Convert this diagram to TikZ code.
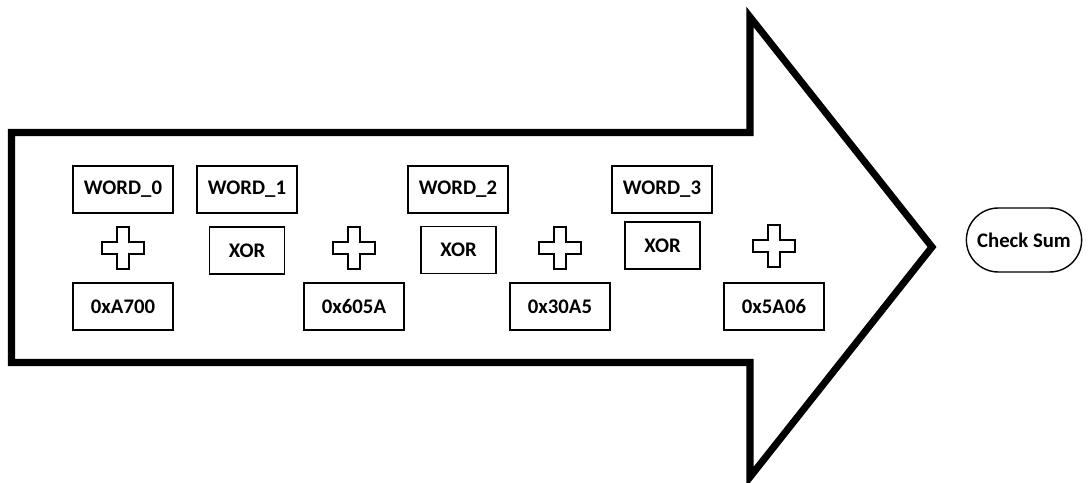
\documentclass[tikz,border=0pt]{standalone}
\usepackage{fontspec}
\setmainfont{Carlito}
\usepackage{tikz}
\usetikzlibrary{shapes.misc}

\begin{document}
\begin{tikzpicture}[
  x=0.02cm, y=-0.02cm,
  box/.style={draw, line width=0.8pt, minimum width=2cm, minimum height=0.94cm, inner sep=0pt, font=\fontsize{11.8}{14}\selectfont\bfseries},
  xorbox/.style={box, minimum width=1.5cm},
  pill/.style={draw, line width=0.8pt, rounded rectangle, minimum width=2.54cm, minimum height=1.28cm, font=\fontsize{11.8}{14}\selectfont\bfseries},
  plus/.pic={\draw[line width=0.7pt] (-6,-21) -- (6,-21) -- (6,-6) -- (21,-6) -- (21,6) -- (6,6) -- (6,21) -- (-6,21) -- (-6,6) -- (-21,6) -- (-21,-6) -- (-6,-6) -- cycle;}]
\useasboundingbox (0,0) rectangle (1089,483);
% big arrow
\draw[line width=4pt, line join=miter] (11.5,132.5) -- (750,132.5) -- (750,17) -- (932,247) -- (750,477) -- (750,362.5) -- (11.5,362.5) -- cycle;
% words
\node[box] (w0) at (123,189.5) {WORD\_0};
\node[box] (w1) at (247,189.5) {WORD\_1};
\node[box] (w2) at (458,189.5) {WORD\_2};
\node[box] (w3) at (662,189.5) {WORD\_3};
% xor
\node[xorbox] (x1) at (247,250.5) {XOR};
\node[xorbox] (x2) at (458.5,250) {XOR};
\node[xorbox] (x3) at (662.5,245.5) {XOR};
% constants
\node[box] (k0) at (123,306.5) {0xA700};
\node[box] (k1) at (354,306.5) {0x605A};
\node[box] (k2) at (560,306.5) {0x30A5};
\node[box] (k3) at (774,306.5) {0x5A06};
% plus signs
\pic (p0) at (123,248) {plus};
\pic (p1) at (354,248) {plus};
\pic (p2) at (560,248) {plus};
\pic (p3) at (774,246) {plus};
\node[pill] (sum) at (1024,240) {Check Sum};
\end{tikzpicture}
\end{document}
